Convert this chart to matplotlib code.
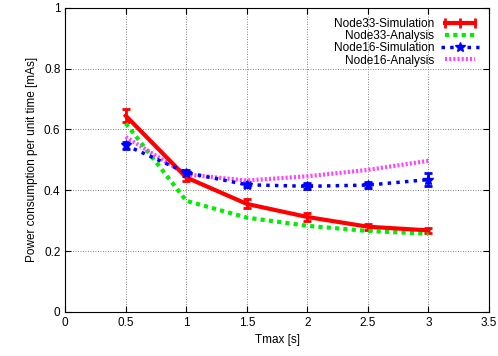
import matplotlib
matplotlib.use("Agg")
import matplotlib.pyplot as plt
from matplotlib.lines import Line2D
from matplotlib.legend_handler import HandlerLine2D

plt.rcParams["font.family"] = ["Liberation Sans", "DejaVu Sans"]
plt.rcParams["font.size"] = 8.5

# data
tmax = [0.5, 1.0, 1.5, 2.0, 2.5, 3.0]
n33_sim = [0.645, 0.442, 0.355, 0.312, 0.280, 0.268]
n33_sim_err = [0.022, 0.012, 0.015, 0.013, 0.010, 0.008]
n33_ana = [0.62, 0.365, 0.31, 0.283, 0.266, 0.257]
n16_sim = [0.548, 0.458, 0.418, 0.413, 0.417, 0.435]
n16_sim_err = [0.012, 0.010, 0.008, 0.010, 0.010, 0.022]
n16_ana = [0.575, 0.452, 0.432, 0.446, 0.467, 0.497]
labels = ["Node33-Simulation", "Node33-Analysis",
          "Node16-Simulation", "Node16-Analysis"]

fig = plt.figure(figsize=(4.98, 3.56), dpi=100)
ax = fig.add_axes([0.131, 0.124, 0.851, 0.854])

ax.errorbar(tmax, n33_sim, yerr=n33_sim_err, color="red", lw=3, capsize=3,
            capthick=2, elinewidth=2)
ax.plot(tmax, n33_ana, color="#00ee00", lw=3, ls=(0, (1, 1)))
ax.errorbar(tmax, n16_sim, yerr=n16_sim_err, color="blue", lw=2.5,
            ls=(0, (1, 1.5)), marker="*", ms=7, capsize=3, capthick=2,
            elinewidth=2)
ax.plot(tmax, n16_ana, color="#ff44ff", lw=3, ls=(0, (0.5, 0.5)))

ax.set_xlim(0, 3.5)
ax.set_ylim(0, 1)
ax.set_xticks([0, 0.5, 1, 1.5, 2, 2.5, 3, 3.5])
ax.set_xticklabels(["0", "0.5", "1", "1.5", "2", "2.5", "3", "3.5"])
ax.set_yticks([0, 0.2, 0.4, 0.6, 0.8, 1])
ax.set_yticklabels(["0", "0.2", "0.4", "0.6", "0.8", "1"])
ax.tick_params(direction="in", top=True, right=True, length=4)
ax.grid(True, color="#555555", ls=(0, (1, 2)), lw=0.6)
ax.set_xlabel("Tmax [s]")
ax.set_ylabel("Power consumption per unit time [mAs]")

# gnuplot-like legend samples
red_h = Line2D([], [], color="red", lw=3, marker="|", ms=7, mew=2)
green_h = Line2D([], [], color="#00ee00", lw=3, ls=(0, (1, 1)))
blue_h = Line2D([], [], color="blue", lw=2.5, ls=(0, (1, 1.5)), marker="*",
                ms=7)
pink_h = Line2D([], [], color="#ff44ff", lw=3, ls=(0, (0.5, 0.5)))
leg = ax.legend([red_h, green_h, blue_h, pink_h], labels, loc="upper right",
                frameon=False, markerfirst=False, numpoints=3,
                handlelength=3.2, borderaxespad=0.45, labelspacing=0.02,
                handletextpad=0.6,
                handler_map={blue_h: HandlerLine2D(numpoints=1)})
for col in leg._legend_handle_box.get_children():
    col.align = "right"

fig.savefig("out.png", dpi=100)
